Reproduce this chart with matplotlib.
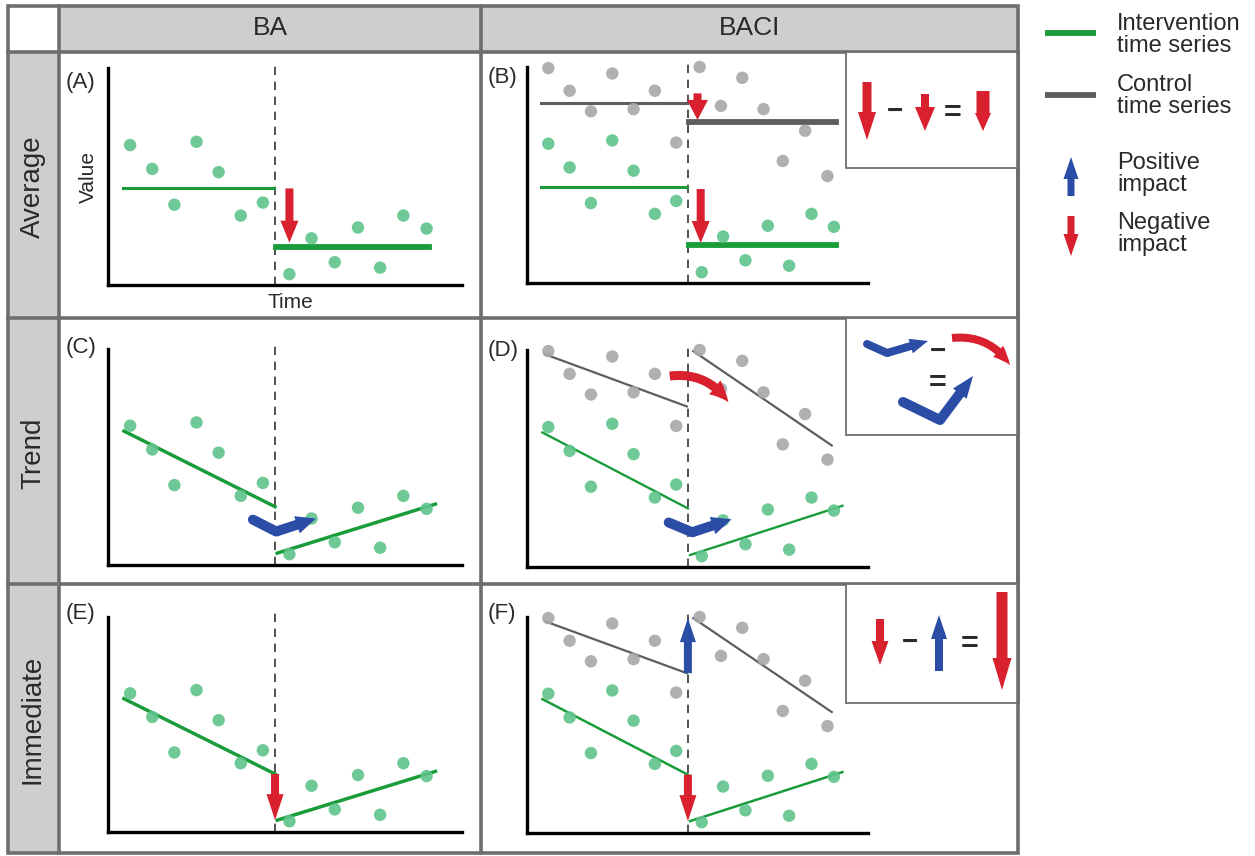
import numpy as np
import matplotlib
matplotlib.use("Agg")
from matplotlib import pyplot as plt
from matplotlib.patches import Rectangle, FancyArrowPatch

plt.rcParams['font.family'] = ['Liberation Sans', 'DejaVu Sans']

W, H = 1255, 856

# sample times before / after the intervention
t_before = [1.0, 2.0, 3.0, 4.0, 5.0, 6.0, 7.0]
t_after = [8.2, 9.2, 10.25, 11.3, 12.3, 13.35, 14.4]
t_after_ctrl = [8.1, 9.1, 10.1, 11.1, 12.0, 13.05, 14.1]
t_int = 7.55

# intervention (green) and control (grey) observations
green_before = [6.45, 5.35, 3.7, 6.6, 5.2, 3.2, 3.8]
green_after = [0.5, 2.15, 1.05, 2.65, 0.8, 3.2, 2.6]
gray_before = [9.95, 8.9, 7.95, 9.7, 8.05, 8.9, 6.5]
gray_after = [10.0, 8.2, 9.5, 8.05, 5.65, 7.05, 4.95]

# average model: level before / after
mean_t_before = [0.68, 7.5]
mean_t_after = [7.6, 14.5]
green_mean = [4.45, 1.75]
gray_mean = [8.33, 7.45]

# trend model: segment end points (time, value)
green_tr_t_before = [0.72, 7.55]
green_tr_v_before = [6.2, 2.7]
green_tr_t_after = [7.65, 14.8]
green_tr_v_after = [0.55, 2.82]
gray_tr_t_before = [0.85, 7.5]
gray_tr_v_before = [9.8, 7.4]
gray_tr_t_after = [7.8, 14.3]
gray_tr_v_after = [9.95, 5.6]

GREEN_PT = '#5ec48c'
GREEN_LN = '#1a9c3a'
GRAY_PT = '#a8a8a8'
GRAY_LN = '#5e5e5e'
RED = '#d8202e'
BLUE = '#2c4da6'
BORDER = '#6e6e6e'
CELL = '#cecece'
TXT = '#2a2a2a'

fig = plt.figure(figsize=(W / 100, H / 100), dpi=100)
fig.patch.set_facecolor('white')

bg = fig.add_axes([0, 0, 1, 1], zorder=0)
bg.set_xlim(0, W)
bg.set_ylim(H, 0)
bg.axis('off')

# table cells
cells = [(8, 6, 59, 52, 'white'), (59, 6, 481, 52, CELL), (481, 6, 1018, 52, CELL),
         (8, 52, 59, 318, CELL), (8, 318, 59, 584, CELL), (8, 584, 59, 853, CELL)]
for x0, y0, x1, y1, c in cells:
    bg.add_patch(Rectangle((x0, y0), x1 - x0, y1 - y0, facecolor=c, edgecolor='none'))
bg.add_patch(Rectangle((8, 6), 1010, 847, facecolor='none', edgecolor=BORDER, lw=2.6))
for y in [52, 318, 584]:
    bg.plot([8, 1018], [y, y], color=BORDER, lw=2.6)
for x in [59, 481]:
    bg.plot([x, x], [6, 853], color=BORDER, lw=2.6)

bg.text(270, 28, 'BA', fontsize=19, ha='center', va='center', color=TXT)
bg.text(750, 28, 'BACI', fontsize=19, ha='center', va='center', color=TXT)
bg.text(33, 187, 'Average', fontsize=20, rotation=90, ha='center', va='center', color=TXT)
bg.text(33, 453, 'Trend', fontsize=20, rotation=90, ha='center', va='center', color=TXT)
bg.text(33, 719, 'Immediate', fontsize=20, rotation=90, ha='center', va='center', color=TXT)

for lab, x, y in [('(A)', 66, 82), ('(B)', 488, 77), ('(C)', 66, 347),
                  ('(D)', 488, 350), ('(E)', 66, 614), ('(F)', 488, 613)]:
    bg.text(x, y, lab, fontsize=16, ha='left', va='center', color=TXT)


def arrow(ax, p0, p1, color, tw, hw, hl, rad=0.0, z=6):
    a = FancyArrowPatch(p0, p1,
                        arrowstyle=f'simple,head_length={hl},head_width={hw},tail_width={tw}',
                        connectionstyle=f'arc3,rad={rad}', mutation_scale=0.72,
                        color=color, lw=0, shrinkA=0, shrinkB=0, zorder=z, clip_on=False)
    ax.add_patch(a)


def bent(ax, p0, p1, p2, color, tw, hw, hl):
    ax.plot([p0[0], p1[0]], [p0[1], p1[1]], color=color, lw=tw * 0.72,
            solid_capstyle='round', zorder=6, clip_on=False)
    arrow(ax, p1, p2, color, tw, hw, hl)


def panel(x0, y0, x1, y1, control):
    ax = fig.add_axes([x0 / W, 1 - y1 / H, (x1 - x0) / W, (y1 - y0) / H], zorder=2)
    ax.set_xlim(0, 16)
    ax.set_ylim(0, 10)
    ax.patch.set_alpha(0)
    for s in ['top', 'right']:
        ax.spines[s].set_visible(False)
    for s in ['left', 'bottom']:
        ax.spines[s].set_linewidth(2.4)
        ax.spines[s].set_color('black')
    ax.set_xticks([])
    ax.set_yticks([])
    ax.plot([t_int, t_int], [0, 10.2], color='#333333', lw=1.2, dashes=(5, 4),
            clip_on=False, zorder=1)
    ax.scatter(t_before + t_after, green_before + green_after, s=80, color=GREEN_PT,
               edgecolor='none', alpha=0.9, zorder=3, clip_on=False)
    if control:
        ax.scatter(t_before + t_after_ctrl, gray_before + gray_after, s=80, color=GRAY_PT,
                   edgecolor='none', alpha=0.9, zorder=3, clip_on=False)
    return ax


axA = panel(108, 68, 462, 285, False)
axB = panel(527, 67, 868, 283, True)
axC = panel(108, 349, 462, 565, False)
axD = panel(527, 350, 868, 567, True)
axE = panel(108, 617, 462, 832, False)
axF = panel(527, 617, 868, 833, True)

bg.text(88, 177, 'Value', fontsize=15, rotation=90, ha='center', va='center', color=TXT)
bg.text(290, 302, 'Time', fontsize=15, ha='center', va='center', color=TXT)

# (A) / (B) average
for ax in [axA, axB]:
    ax.plot(mean_t_before, [green_mean[0]] * 2, color=GREEN_LN, lw=2.2, zorder=2)
    ax.plot(mean_t_after, [green_mean[1]] * 2, color=GREEN_LN, lw=4.2, zorder=2)
arrow(axA, (8.2, green_mean[0]), (8.2, green_mean[1] + 0.2), RED, 8, 18, 22)
axB.plot(mean_t_before, [gray_mean[0]] * 2, color=GRAY_LN, lw=2.2, zorder=2)
axB.plot(mean_t_after, [gray_mean[1]] * 2, color=GRAY_LN, lw=4.2, zorder=2)
arrow(axB, (8.15, green_mean[0] - 0.1), (8.15, green_mean[1] + 0.1), RED, 8, 18, 22)
arrow(axB, (8.0, gray_mean[0] + 0.45), (8.0, gray_mean[1] + 0.1), RED, 8, 21, 20)

# (C)-(F) trends
for ax, lw in [(axC, 2.5), (axE, 2.5), (axD, 1.7), (axF, 1.8)]:
    ax.plot(green_tr_t_before, green_tr_v_before, color=GREEN_LN, lw=lw, zorder=2)
    ax.plot(green_tr_t_after, green_tr_v_after, color=GREEN_LN, lw=lw, zorder=2)
for ax in [axD, axF]:
    ax.plot(gray_tr_t_before, gray_tr_v_before, color=GRAY_LN, lw=1.6, zorder=2)
    ax.plot(gray_tr_t_after, gray_tr_v_after, color=GRAY_LN, lw=1.6, zorder=2)

bent(axC, (6.55, 2.1), (7.6, 1.55), (9.4, 2.15), BLUE, 10, 18, 20)
bent(axD, (6.65, 2.05), (7.75, 1.6), (9.6, 2.2), BLUE, 10, 18, 20)
arrow(axD, (6.7, 8.8), (9.45, 7.6), RED, 9, 18, 20, rad=-0.3)

arrow(axE, (t_int, green_tr_v_before[1]), (t_int, green_tr_v_after[0]), RED, 8, 17, 26)
arrow(axF, (t_int, green_tr_v_before[1]), (t_int, green_tr_v_after[0]), RED, 8, 17, 26)
arrow(axF, (t_int, gray_tr_v_before[1]), (t_int, gray_tr_v_after[0]), BLUE, 8, 16, 24)

# insets and legend on top
fg = fig.add_axes([0, 0, 1, 1], zorder=5)
fg.set_xlim(0, W)
fg.set_ylim(H, 0)
fg.axis('off')
fg.patch.set_alpha(0)

for y0, y1 in [(52, 168), (318, 435), (584, 703)]:
    fg.add_patch(Rectangle((846, y0), 172, y1 - y0, facecolor='white', edgecolor=BORDER, lw=1.3))
fg.plot([1018, 1018], [52, 703], color=BORDER, lw=2.6)

# B inset
arrow(fg, (867, 82), (867, 140), RED, 9, 18, 28)
fg.text(895, 112, '\u2212', fontsize=20, ha='center', va='center', color=TXT, fontweight='bold')
arrow(fg, (925, 94), (925, 131), RED, 8, 20, 24)
fg.text(953, 114, '=', fontsize=22, ha='center', va='center', color=TXT, fontweight='bold')
arrow(fg, (983, 91), (983, 131), RED, 13, 16, 18)

# D inset
bent(fg, (867, 344), (887, 353), (928, 341), BLUE, 8, 15, 18)
fg.text(938, 352, '\u2212', fontsize=20, ha='center', va='center', color=TXT, fontweight='bold')
arrow(fg, (952, 338), (1010, 365), RED, 8, 15, 18, rad=-0.3)
fg.text(938, 384, '=', fontsize=22, ha='center', va='center', color=TXT, fontweight='bold')
bent(fg, (903, 402), (940, 420), (973, 376), BLUE, 10, 17, 22)

# F inset
arrow(fg, (880, 619), (880, 665), RED, 8, 17, 24)
fg.text(910, 643, '\u2212', fontsize=20, ha='center', va='center', color=TXT, fontweight='bold')
arrow(fg, (939, 671), (939, 615), BLUE, 8, 16, 24)
fg.text(970, 645, '=', fontsize=22, ha='center', va='center', color=TXT, fontweight='bold')
arrow(fg, (1002, 592), (1002, 690), RED, 11, 19, 32)

# legend
fg.plot([1045, 1096], [33, 33], color=GREEN_LN, lw=4.2, solid_capstyle='butt')
fg.plot([1045, 1096], [95, 95], color=GRAY_LN, lw=4.2, solid_capstyle='butt')
arrow(fg, (1071, 196), (1071, 157), BLUE, 7, 15, 22)
arrow(fg, (1071, 216), (1071, 256), RED, 7, 15, 22)
for txt, y in [('Intervention\ntime series', 35), ('Control\ntime series', 96),
               ('Positive\nimpact', 174), ('Negative\nimpact', 234)]:
    fg.text(1117, y, txt, fontsize=17, ha='left', va='center', color=TXT, linespacing=1.0)

fig.savefig('out.png', dpi=100, facecolor='white')
